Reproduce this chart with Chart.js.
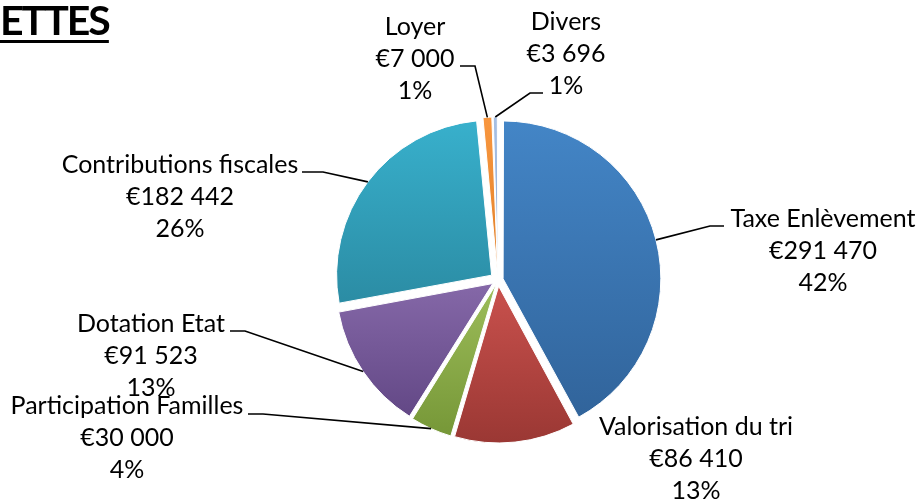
<!DOCTYPE html>
<html>
<head>
<meta charset="utf-8">
<script src="https://cdn.jsdelivr.net/npm/chart.js@4.4.1/dist/chart.umd.min.js"></script>
<style>
  html, body { margin: 0; padding: 0; background: #fff; overflow: hidden; }
  #wrap { position: relative; width: 919px; height: 501px; }
  #titre {
    position: absolute; left: 0; top: -5px;
    font-family: Lato, sans-serif; font-weight: bold; font-size: 41px;
    letter-spacing: -2px;
    text-decoration: underline; text-decoration-thickness: 3px; text-underline-offset: 5px;
    color: #000; margin: 0;
  }
</style>
</head>
<body>
<div id="wrap">
  <canvas id="myChart" width="919" height="501"></canvas>
  <div id="titre">ETTES</div>
</div>
<script>
// Données
const categories = ['Taxe Enlèvement', 'Valorisation du tri', 'Participation Familles', 'Dotation Etat', 'Contributions fiscales', 'Loyer', 'Divers'];
const montants = [291470, 86410, 30000, 91523, 182442, 7000, 3696];
const pourcentages = [42, 13, 4, 13, 26, 1, 1];

// Couleurs (haut / bas du dégradé)
const couleursHaut = ['#4385c6', '#c9514d', '#9dbd5a', '#8568a8', '#38b0cc', '#f8963e', '#a6bfe3'];
const couleursBas = ['#31649b', '#9b3834', '#779838', '#634886', '#2b8ca4', '#e0802a', '#8fa9d3'];

// Position des étiquettes et des lignes de rappel
const etiquettes = [
    { x: 823, y: 227, ligne: [[710, 226], [724, 226]] },
    { x: 696, y: 435, ligne: [] },
    { x: 127, y: 414, ligne: [[263, 414], [248, 414]] },
    { x: 151, y: 332, ligne: [[245, 331], [230, 331]] },
    { x: 180, y: 173, ligne: [[323, 172], [302, 172]] },
    { x: 415, y: 35, ligne: [[475, 66], [460, 66]] },
    { x: 566, y: 30, ligne: [[530, 93], [543, 93]] }
];

const eclatement = 8; // déplacement voulu de chaque part, en pixels

function formatEuro(v) {
    return '€' + String(v).replace(/\B(?=(\d{3})+(?!\d))/g, ' ');
}

// Chart.js déplace une part de offset/4 * (2 - sin(angle)) : on inverse pour avoir un éclatement constant
const total = montants.reduce((a, b) => a + b, 0);
const offsets = montants.map(v => {
    const c = v / total * 2 * Math.PI;
    return eclatement * 4 / (2 - Math.sin(Math.min(Math.PI, c)));
});

// Dégradé vertical pour chaque part
const degradePlugin = {
    id: 'degrade',
    beforeDatasetsDraw(chart) {
        const ctx = chart.ctx;
        chart.getDatasetMeta(0).data.forEach((arc, i) => {
            const p = arc.getProps(['x', 'y', 'startAngle', 'endAngle', 'outerRadius']);
            const ys = [p.y, p.y + p.outerRadius * Math.sin(p.startAngle), p.y + p.outerRadius * Math.sin(p.endAngle)];
            [-Math.PI / 2, Math.PI / 2, 3 * Math.PI / 2].forEach(a => {
                if (a >= p.startAngle && a <= p.endAngle) ys.push(p.y + p.outerRadius * Math.sin(a));
            });
            const haut = Math.min(...ys), bas = Math.max(...ys);
            const grad = ctx.createLinearGradient(0, haut, 0, bas + 0.01);
            grad.addColorStop(0, couleursHaut[i]);
            grad.addColorStop(1, couleursBas[i]);
            arc.options = Object.assign({}, arc.options, { backgroundColor: grad });
        });
    }
};

// Étiquettes avec lignes de rappel
const etiquettesPlugin = {
    id: 'etiquettes',
    afterDatasetsDraw(chart) {
        const ctx = chart.ctx;
        ctx.save();
        chart.getDatasetMeta(0).data.forEach((arc, i) => {
            const p = arc.getProps(['x', 'y', 'startAngle', 'endAngle', 'outerRadius']);
            const et = etiquettes[i];
            if (et.ligne.length) {
                const mid = (p.startAngle + p.endAngle) / 2;
                const d = p.outerRadius + eclatement;
                ctx.beginPath();
                ctx.moveTo(p.x + Math.cos(mid) * d, p.y + Math.sin(mid) * d);
                et.ligne.forEach(pt => ctx.lineTo(pt[0], pt[1]));
                ctx.strokeStyle = '#000';
                ctx.lineWidth = 1.6;
                ctx.stroke();
            }
            ctx.fillStyle = '#000';
            ctx.font = '25px Lato, sans-serif';
            ctx.textAlign = 'center';
            ctx.textBaseline = 'alphabetic';
            const lignes = [categories[i], formatEuro(montants[i]), pourcentages[i] + '%'];
            lignes.forEach((t, k) => ctx.fillText(t, et.x, et.y + k * 32));
        });
        ctx.restore();
    }
};

const ctx = document.getElementById('myChart').getContext('2d');
const camembert = new Chart(ctx, {
    type: 'pie',
    data: {
        labels: categories,
        datasets: [{
            data: montants,
            backgroundColor: couleursHaut,
            borderColor: '#ffffff',
            borderWidth: 1,
            offset: offsets
        }]
    },
    options: {
        responsive: false,
        animation: false,
        radius: 155,
        layout: { padding: { left: 77, top: 59, right: 0, bottom: 0 } },
        plugins: {
            legend: { display: false },
            tooltip: { enabled: false }
        }
    },
    plugins: [degradePlugin, etiquettesPlugin]
});
</script>
</body>
</html>
